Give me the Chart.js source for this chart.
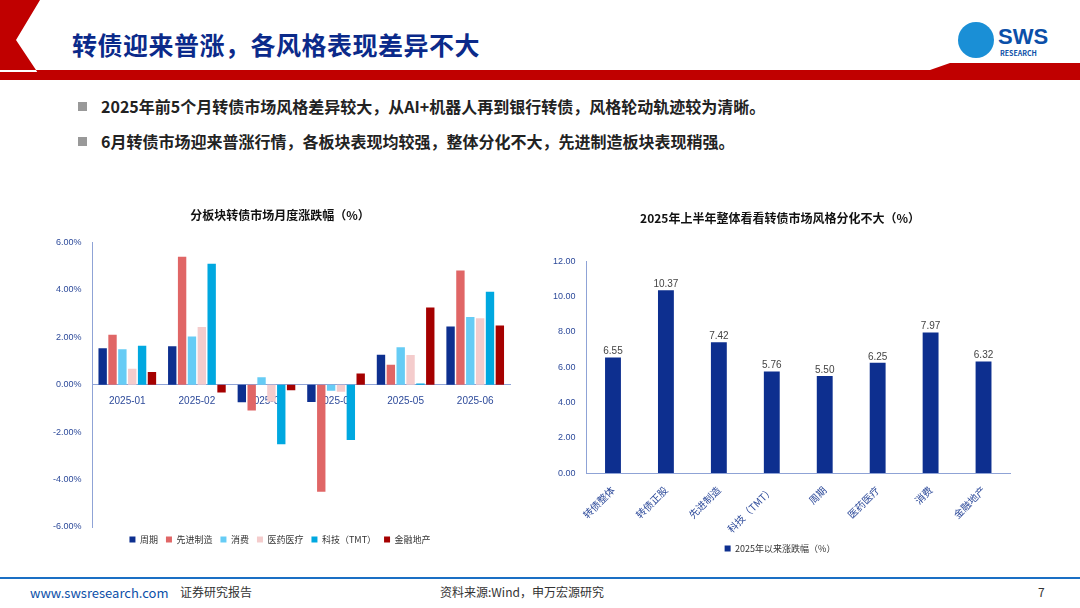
<!DOCTYPE html>
<html><head><meta charset="utf-8">
<script src="https://cdn.jsdelivr.net/npm/chart.js@4/dist/chart.umd.min.js"></script>
<style>
body{margin:0;width:1080px;height:608px;background:#fff;position:relative;overflow:hidden;font-family:"Noto Sans CJK SC","Noto Sans",sans-serif}
.abs{position:absolute}
.title{left:72px;top:26px;font-size:25px;font-weight:bold;color:#0b2a8a;letter-spacing:0.5px}
.bul{left:78px;font-size:16px;font-weight:bold;color:#222}
.bul span{display:inline-block;width:9px;height:9px;background:#999;margin-right:14px;vertical-align:2px}
.foot{top:583px;font-size:12px;color:#333}
</style></head><body>
<svg class="abs" style="left:0;top:0" width="1080" height="90">
<polygon points="0,0 40,0 16,40 36,70 0,70" fill="#c00000"/>
<polygon points="0,72 60,72 60,80 0,80" fill="#c00000"/>
<polygon points="36,70 930,70 950,63 1080,63 1080,80 42,80" fill="#c00000"/>
</svg>
<div class="abs title">转债迎来普涨，各风格表现差异不大</div>
<div class="abs" style="left:958px;top:22px;width:36px;height:36px;border-radius:50%;background:#1a8fd6"></div>
<div class="abs" style="left:998px;top:24px;font-size:22px;font-weight:bold;color:#0b4fa8;font-family:'Liberation Sans'">SWS</div>
<div class="abs" style="left:1000px;top:48px;font-size:7px;font-weight:bold;color:#0b4fa8">RESEARCH</div>
<div class="abs bul" style="top:94px"><span></span>2025年前5个月转债市场风格差异较大，从AI+机器人再到银行转债，风格轮动轨迹较为清晰。</div>
<div class="abs bul" style="top:129px"><span></span>6月转债市场迎来普涨行情，各板块表现均较强，整体分化不大，先进制造板块表现稍强。</div>
<div class="abs" style="left:50px;top:204px;width:465px;height:350px"><canvas id="c1"></canvas></div>
<div class="abs" style="left:540px;top:205px;width:490px;height:358px"><canvas id="c2"></canvas></div>
<div class="abs" style="left:0;top:577px;width:1080px;height:2px;background:#1a6fc4"></div>
<div class="abs foot" style="left:30px;color:#0b4fa8;font-size:13px">www.swsresearch.com</div>
<div class="abs foot" style="left:180px">证券研究报告</div>
<div class="abs foot" style="left:440px">资料来源:Wind，申万宏源研究</div>
<div class="abs foot" style="left:1038px">7</div>
<script>
const months=["2025-01","2025-02","2025-03","2025-04","2025-05","2025-06"];
const zhouqi=[1.54,1.62,-0.74,-0.73,1.26,2.45];
const xianjin=[2.11,5.40,-1.09,-4.51,0.84,4.82];
const xiaofei=[1.49,2.03,0.31,-0.25,1.58,2.85];
const yiyao=[0.67,2.43,-0.72,-0.30,1.25,2.80];
const keji=[1.64,5.10,-2.51,-2.33,0.05,3.92];
const jinrong=[0.54,-0.33,-0.23,0.47,3.26,2.50];
const cats2=["转债整体","转债正股","先进制造","科技（TMT）","周期","医药医疗","消费","金融地产"];
const vals2=[6.55,10.37,7.42,5.76,5.50,6.25,7.97,6.32];
const axisC="#8fa3d6", tickC="#2d4a9a";
Chart.defaults.font.family="'Liberation Sans','Noto Sans CJK SC',sans-serif";
Chart.defaults.animation=false;
const mk=(l,d,c)=>({label:l,data:d,backgroundColor:c,categoryPercentage:0.85,barPercentage:0.85});
new Chart(document.getElementById('c1'),{type:'bar',data:{labels:months,datasets:[
mk("周期",zhouqi,"#0d2f8f"),mk("先进制造",xianjin,"#e06666"),mk("消费",xiaofei,"#66ccf5"),
mk("医药医疗",yiyao,"#f4cccc"),mk("科技（TMT）",keji,"#00a8e0"),mk("金融地产",jinrong,"#a50000")]},
options:{responsive:true,maintainAspectRatio:false,layout:{padding:{right:5}},
plugins:{title:{display:true,text:"分板块转债市场月度涨跌幅（%）",font:{size:12,weight:'bold',family:"'Noto Sans CJK SC'"},color:'#111',padding:{top:4,bottom:20}},
legend:{position:'bottom',labels:{boxWidth:6,boxHeight:6,font:{size:9,family:"'Noto Sans CJK SC'"},color:'#333',padding:8}}},
scales:{x:{position:{y:0},z:1,grid:{display:false},border:{color:axisC},ticks:{color:tickC,font:{size:10}}},
y:{min:-6,max:6,ticks:{stepSize:2,color:tickC,font:{size:9},callback:v=>v.toFixed(2)+"%"},grid:{display:false,drawTicks:true},border:{color:axisC}}}}});
new Chart(document.getElementById('c2'),{type:'bar',data:{labels:cats2,datasets:[{label:"2025年以来涨跌幅（%）",data:vals2,backgroundColor:"#0d2f8f",categoryPercentage:1,barPercentage:0.3}]},
options:{responsive:true,maintainAspectRatio:false,layout:{padding:{right:20,left:10}},
plugins:{title:{display:true,text:"2025年上半年整体看看转债市场风格分化不大（%）",font:{size:12,weight:'bold',family:"'Noto Sans CJK SC'"},color:'#111',padding:{top:6,bottom:36}},
legend:{position:'bottom',labels:{boxWidth:6,boxHeight:6,font:{size:9,family:"'Noto Sans CJK SC'"},color:'#333',padding:6}}},
scales:{x:{grid:{display:false},border:{color:axisC},ticks:{color:tickC,font:{size:10,family:"'Noto Sans CJK SC'"},maxRotation:45,minRotation:45}},
y:{min:0,max:12,ticks:{stepSize:2,color:tickC,font:{size:9},callback:v=>v.toFixed(2)},grid:{display:false},border:{color:axisC}}}},
plugins:[{id:'lbl',afterDatasetsDraw(ch){const c=ch.ctx;c.save();c.font="10px 'Liberation Sans'";c.fillStyle="#444";c.textAlign='center';ch.getDatasetMeta(0).data.forEach((b,i)=>c.fillText(vals2[i].toFixed(2),b.x,b.y-6));c.restore();}}]});
</script></body></html>
